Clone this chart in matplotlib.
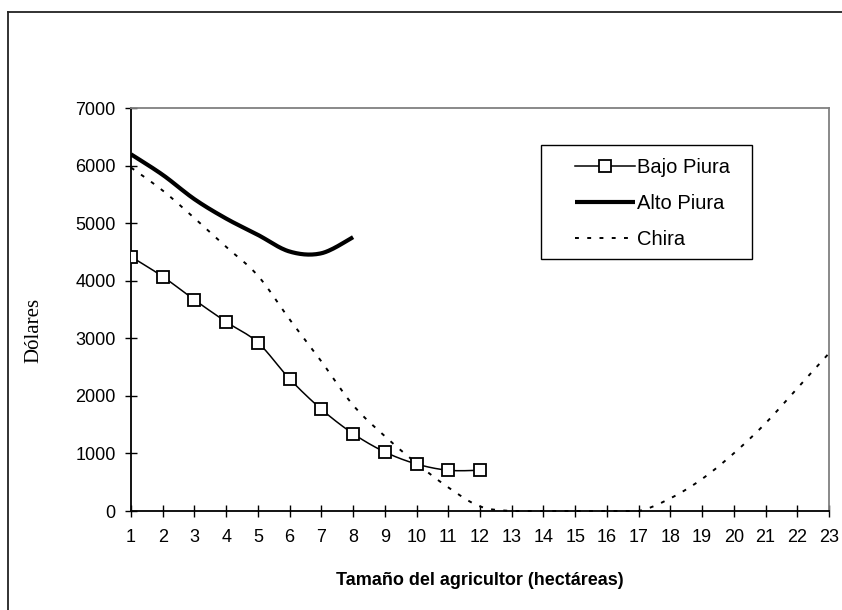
import numpy as np
import matplotlib
matplotlib.use("Agg")
import matplotlib.pyplot as plt
from matplotlib.lines import Line2D
from matplotlib.patches import Rectangle

# Farm size (hectares)
sizes = list(range(1, 24))

# Cost curves in dollars by farm size
bajo_piura = [4420, 4075, 3670, 3287, 2927, 2296, 1769, 1344, 1026, 817, 708, 708]
alto_piura = [6200, 5843, 5420, 5083, 4800, 4510, 4480, 4760]
chira = [5970, 5570, 5090, 4590, 4090, 3330, 2600, 1840, 1300, 830, 410, 80,
         0, 0, 0, 0, 0, 220, 557, 1003, 1525, 2134, 2742]

series_names = ["Bajo Piura", "Alto Piura", "Chira"]
y_ticks = [0, 1000, 2000, 3000, 4000, 5000, 6000, 7000]

SANS = "Liberation Sans"
SERIF = "Liberation Serif"


def smooth(xs, ys, n=24):
    """Spreadsheet-style smoothed line: cubic Bezier through every point."""
    P = np.column_stack([xs, ys]).astype(float)
    Pe = np.vstack([P[0], P, P[-1]])
    t = np.linspace(0, 1, n, endpoint=False)[:, None]
    out = []
    for i in range(len(P) - 1):
        p0, p1 = Pe[i + 1], Pe[i + 2]
        c1 = p0 + (Pe[i + 2] - Pe[i]) / 6.0
        c2 = p1 - (Pe[i + 3] - Pe[i + 1]) / 6.0
        seg = ((1 - t) ** 3) * p0 + 3 * ((1 - t) ** 2) * t * c1 \
            + 3 * (1 - t) * t ** 2 * c2 + t ** 3 * p1
        out.append(seg)
    out.append(P[-1][None, :])
    pts = np.vstack(out)
    return pts[:, 0], pts[:, 1], list(range(0, len(pts), n))


fig = plt.figure(figsize=(8.42, 6.10), dpi=100)
ax = fig.add_axes([131 / 842, 1 - 511 / 610, 698 / 842, 402.7 / 610])

# Bajo Piura: thin smoothed line with open square markers
bx, by, bmark = smooth(sizes[:len(bajo_piura)], bajo_piura)
ax.plot(bx, by, color="black", lw=1.1, marker="s", markevery=bmark,
        markersize=8, markerfacecolor="white", markeredgecolor="black",
        markeredgewidth=1.3, label=series_names[0], zorder=4)

# Alto Piura: thick smoothed line
ax_, ay, _ = smooth(sizes[:len(alto_piura)], alto_piura)
ax.plot(ax_, ay, color="black", lw=3.0, solid_capstyle="butt",
        label=series_names[1], zorder=3)

# Chira: dotted smoothed line (runs along the axis where it is zero)
cx, cy, _ = smooth(sizes[:len(chira)], chira)
cy = np.maximum(cy, 0)
ax.plot(cx, cy, color="black", lw=1.4, linestyle=(0, (2.0, 4.3)),
        label=series_names[2], zorder=3, clip_on=False)

ax.set_xlim(1, 23)
ax.set_ylim(0, 7000)
ax.set_xticks(sizes)
ax.set_yticks(y_ticks)
ax.set_xticklabels([str(s) for s in sizes], fontfamily=SANS, fontsize=13)
ax.set_yticklabels([str(v) for v in y_ticks], fontfamily=SANS, fontsize=13)
ax.tick_params(axis="both", direction="inout", length=8, width=1.0,
               color="black", labelcolor="black")
ax.tick_params(axis="x", pad=9)
ax.tick_params(axis="y", pad=7)

for side in ("left", "bottom"):
    ax.spines[side].set_color("black")
    ax.spines[side].set_linewidth(1.3)
for side in ("top", "right"):
    ax.spines[side].set_color("#808080")
    ax.spines[side].set_linewidth(1.3)

ax.set_xlabel("Tamaño del agricultor (hectáreas)", fontfamily=SANS,
              fontsize=13, fontweight="bold", labelpad=19)
fig.text(34 / 842, 1 - 330 / 610, "Dólares", rotation=90, ha="center",
         va="center", fontfamily=SERIF, fontsize=15)

# Legend box
ax.add_patch(Rectangle((0.587, 0.625), 0.302, 0.284, transform=ax.transAxes,
                       facecolor="white", edgecolor="black", lw=1.0,
                       zorder=5))
leg = ax.legend(loc="center left", bbox_to_anchor=(0.622, 0.7636),
                frameon=False, borderpad=0, handlelength=2.95,
                handletextpad=0.12, labelspacing=0.86,
                prop={"family": SANS, "size": 14.5})
leg.set_zorder(6)

# Outer chart frame (top and left edges)
fig.add_artist(Line2D([8 / 842, 1], [1 - 12 / 610, 1 - 12 / 610],
                      transform=fig.transFigure, color="#222222", lw=1.3))
fig.add_artist(Line2D([8 / 842, 8 / 842], [0, 1 - 12 / 610],
                      transform=fig.transFigure, color="#222222", lw=1.3))

fig.savefig("out.png", dpi=100)
